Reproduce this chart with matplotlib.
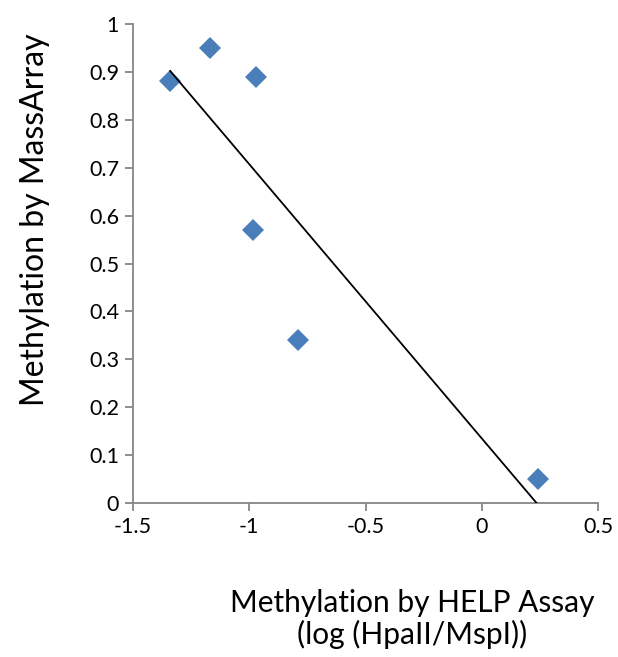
import matplotlib.pyplot as plt
import numpy as np

# Data
help_log = np.array([-1.34, -1.17, -0.97, -0.985, -0.79, 0.24])
massarray = np.array([0.88, 0.95, 0.89, 0.57, 0.34, 0.05])

plt.rcParams['font.family'] = ['Lato', 'DejaVu Sans']

fig = plt.figure(figsize=(6.18, 6.57), dpi=100)
ax = fig.add_axes([133 / 618, 154 / 657, 465 / 618, 479 / 657])

ax.plot(help_log, massarray, 'D', color='#4A7EBB', markersize=11, markeredgewidth=0)

# Linear trendline over data range
slope, intercept = np.polyfit(help_log, massarray, 1)
xs = np.array([help_log.min(), help_log.max()])
ax.plot(xs, slope * xs + intercept, color='black', linewidth=1.3)

ax.set_xlim(-1.5, 0.5)
ax.set_ylim(0, 1)
ax.set_xticks([-1.5, -1, -0.5, 0, 0.5])
ax.set_xticklabels(['-1.5', '-1', '-0.5', '0', '0.5'])
ax.set_yticks(np.arange(0, 1.01, 0.1))
ax.set_yticklabels(['0', '0.1', '0.2', '0.3', '0.4', '0.5', '0.6', '0.7', '0.8', '0.9', '1'])

for s in ['top', 'right']:
    ax.spines[s].set_visible(False)
for s in ['left', 'bottom']:
    ax.spines[s].set_color('#868686')
    ax.spines[s].set_linewidth(1.3)
ax.tick_params(direction='out', length=6, width=1.3, color='#868686', labelsize=15.5, pad=4)
ax.spines['bottom'].set_zorder(0)

fig.text(35 / 618, 1 - 220 / 657, 'Methylation by MassArray', rotation=90,
         ha='center', va='center', fontsize=23)
fig.text(412 / 618, 1 - 619 / 657, 'Methylation by HELP Assay\n(log (HpaII/MspI))',
         ha='center', va='center', fontsize=21.5, linespacing=1.12)

plt.savefig('out.png', dpi=100)
